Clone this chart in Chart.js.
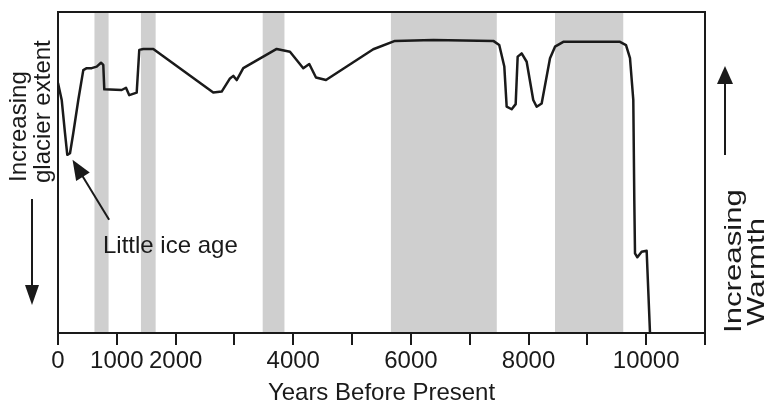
<!DOCTYPE html>
<html>
<head>
<meta charset="utf-8">
<script src="https://cdn.jsdelivr.net/npm/chart.js@4/dist/chart.umd.min.js"></script>
<style>
  html, body { margin: 0; padding: 0; background: #fff; }
  canvas { display: block; }
</style>
</head>
<body>
<canvas id="glacierChart" width="772" height="412"></canvas>
<script>
// Holocene glacier record: years before present vs. relative glacier extent
const years = [0, 63, 119, 158, 204, 260, 345, 430, 488, 573, 658, 731, 770, 787,
    1083, 1156, 1212, 1338, 1382, 1450, 1620, 2640, 2783, 2924, 2980, 3038, 3150,
    3718, 3944, 4170, 4272, 4386, 4556, 5360, 5729, 6381, 7400, 7502, 7588, 7628,
    7713, 7781, 7815, 7883, 7968, 8080, 8138, 8223, 8365, 8450, 8591, 9555, 9657,
    9725, 9781, 9798, 9810, 9850, 9923, 10008, 10065];
const extent = [77.9, 72.6, 62.3, 55.5, 56, 62.3, 72.6, 81.9, 82.5, 82.5, 83, 84.2, 83.5, 75.9,
    75.7, 76.4, 74.1, 74.9, 88.2, 88.5, 88.5, 74.9, 75.2, 79.3, 80.1, 78.8, 82.5,
    88.5, 87.6, 82.5, 83.8, 79.6, 78.8, 88.4, 91, 91.3, 91, 89.7, 83, 70.5,
    69.7, 71.3, 86.1, 87.1, 84.5, 72.6, 70.5, 71.5, 85.6, 89.2, 90.7, 90.7, 89.7,
    85.6, 72.6, 41.4, 24.8, 23.6, 25.3, 25.6, 0];

// warm intervals (shaded)
const bandStart = [620, 1410, 3480, 5660, 8450];
const bandEnd = [860, 1660, 3850, 7460, 9610];

const labelledTicks = [0, 1000, 2000, 4000, 6000, 8000, 10000];

// where the "Little ice age" arrow points
const liaPoint = { x: 230, y: 54 };

const ink = '#1a1a1a';
Chart.defaults.font.family = "'Liberation Sans', Arial, sans-serif";
Chart.defaults.color = ink;

function arrowHead(ctx, tipX, tipY, dx, dy, len, half) {
    const l = Math.hypot(dx, dy);
    const ux = dx / l, uy = dy / l;
    const bx = tipX + ux * len, by = tipY + uy * len;
    ctx.beginPath();
    ctx.moveTo(tipX, tipY);
    ctx.lineTo(bx - uy * half, by + ux * half);
    ctx.lineTo(bx + uy * half, by - ux * half);
    ctx.closePath();
    ctx.fill();
}

function vText(ctx, text, x, y, stretch) {
    ctx.save();
    ctx.translate(x, y);
    ctx.rotate(-Math.PI / 2);
    ctx.scale(stretch || 1, 1);
    ctx.textAlign = 'left';
    ctx.textBaseline = 'alphabetic';
    ctx.fillText(text, 0, 0);
    ctx.restore();
}

const bands = {
    id: 'bands',
    beforeDatasetsDraw(chart) {
        const { ctx, chartArea: a, scales: { x } } = chart;
        ctx.save();
        ctx.fillStyle = '#cfcfcf';
        bandStart.forEach((s, i) => {
            const x0 = x.getPixelForValue(s);
            const x1 = x.getPixelForValue(bandEnd[i]);
            ctx.fillRect(x0, a.top, x1 - x0, a.bottom - a.top);
        });
        ctx.restore();
    }
};

const frame = {
    id: 'frame',
    afterDraw(chart) {
        const { ctx, chartArea: a, scales: { x, y } } = chart;
        ctx.save();
        ctx.strokeStyle = ink;
        ctx.fillStyle = ink;
        ctx.lineWidth = 2;
        ctx.strokeRect(a.left, a.top, a.right - a.left, a.bottom - a.top);

        // Little ice age pointer
        const tx = x.getPixelForValue(liaPoint.x) + 1;
        const ty = y.getPixelForValue(liaPoint.y);
        const dx = 36.6, dy = 60;
        ctx.beginPath();
        ctx.moveTo(tx + dx * 0.25, ty + dy * 0.25);
        ctx.lineTo(tx + dx, ty + dy);
        ctx.stroke();
        arrowHead(ctx, tx, ty, dx, dy, 20, 8);
        ctx.font = '24px "Liberation Sans", Arial, sans-serif';
        ctx.textBaseline = 'alphabetic';
        ctx.fillText('Little ice age', 103, 253);

        // left side label and arrow
        vText(ctx, 'Increasing', 26, 182);
        vText(ctx, 'glacier extent', 50, 183);
        ctx.beginPath();
        ctx.moveTo(32, 199);
        ctx.lineTo(32, 290);
        ctx.stroke();
        arrowHead(ctx, 32, 305, 0, -1, 20, 7);

        // right side label and arrow
        ctx.beginPath();
        ctx.moveTo(725, 155);
        ctx.lineTo(725, 80);
        ctx.stroke();
        arrowHead(ctx, 725, 66, 0, 1, 18, 8);
        vText(ctx, 'Increasing', 741, 333, 1.3);
        vText(ctx, 'Warmth', 764, 326, 1.3);
        ctx.restore();
    }
};

new Chart(document.getElementById('glacierChart'), {
    type: 'line',
    data: {
        datasets: [{
            data: years.map((yr, i) => ({ x: yr, y: extent[i] })),
            borderColor: ink,
            borderWidth: 2.5,
            pointRadius: 0,
            tension: 0,
            borderJoinStyle: 'round'
        }]
    },
    options: {
        responsive: false,
        animation: false,
        devicePixelRatio: 1,
        layout: { padding: { left: 58, right: 67, top: 12, bottom: 0 } },
        plugins: { legend: { display: false }, tooltip: { enabled: false } },
        scales: {
            x: {
                type: 'linear',
                min: 0,
                max: 11000,
                afterFit(scale) { scale.height = 79; },
                ticks: {
                    stepSize: 1000,
                    autoSkip: false,
                    maxRotation: 0,
                    padding: 2,
                    font: { size: 24 },
                    color: ink,
                    callback: v => labelledTicks.includes(v) ? String(v) : ''
                },
                grid: { drawOnChartArea: false, tickLength: 12, color: ink, lineWidth: 2 },
                border: { display: true, color: ink, width: 2 },
                title: {
                    display: true,
                    text: 'Years Before Present',
                    font: { size: 24 },
                    color: ink,
                    padding: { top: 0, bottom: 4 }
                }
            },
            y: { display: false, min: 0, max: 100 }
        }
    },
    plugins: [bands, frame]
});
</script>
</body>
</html>
